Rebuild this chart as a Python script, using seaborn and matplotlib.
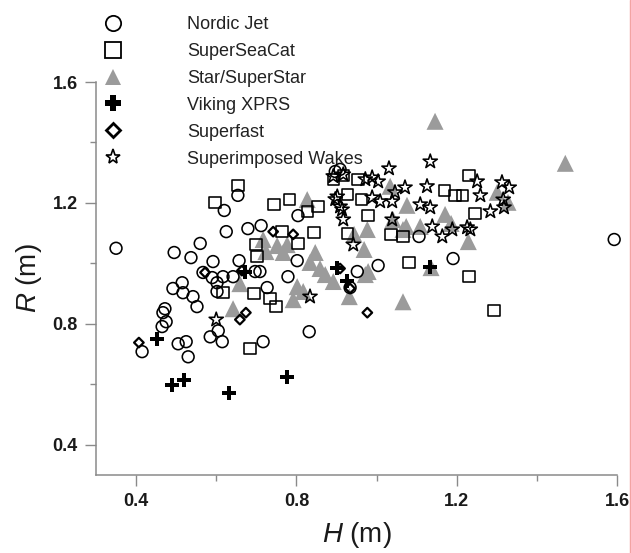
import numpy as np
import pandas as pd
import seaborn as sns
import matplotlib
matplotlib.use("Agg")
import matplotlib.pyplot as plt
from matplotlib.lines import Line2D

# Wave height H (m) and run-up R (m) per vessel
nordic_H = [0.35, 0.495, 0.537, 0.56, 0.592, 0.625, 0.62, 0.654, 0.679, 0.712,
            0.657, 0.697, 0.709, 0.727, 0.804, 0.802, 0.779, 0.832, 0.717, 0.605,
            0.585, 0.505, 0.525, 0.53, 0.415, 0.467, 0.475, 0.465, 0.492, 0.515,
            0.517, 0.542, 0.552, 0.567, 0.59, 0.602, 0.602, 0.617, 0.642, 0.897,
            0.952, 0.615, 0.472, 0.934, 1.004, 1.106, 1.191, 1.593, 0.909]
nordic_R = [1.05, 1.036, 1.019, 1.066, 1.006, 1.105, 1.175, 1.225, 1.115, 1.125,
            1.009, 0.973, 0.973, 0.92, 1.158, 1.009, 0.956, 0.774, 0.741, 0.777,
            0.757, 0.734, 0.741, 0.691, 0.708, 0.837, 0.807, 0.791, 0.917, 0.936,
            0.903, 0.89, 0.857, 0.97, 0.953, 0.936, 0.907, 0.956, 0.956, 1.304,
            0.973, 0.741, 0.85, 0.92, 0.993, 1.089, 1.016, 1.079, 1.311]

seacat_H = [0.654, 0.597, 0.744, 0.782, 0.854, 0.827, 0.764, 0.844, 0.699, 0.804,
            0.702, 0.617, 0.694, 0.734, 0.749, 0.684, 0.892, 0.954, 0.927, 0.962,
            0.927, 1.231, 1.169, 1.196, 1.214, 0.979, 1.246, 1.036, 1.066, 1.081,
            1.231, 1.293, 0.917]
seacat_R = [1.258, 1.202, 1.195, 1.211, 1.188, 1.172, 1.105, 1.102, 1.062, 1.066,
            1.023, 0.903, 0.9, 0.883, 0.857, 0.718, 1.278, 1.278, 1.228, 1.211,
            1.099, 1.291, 1.241, 1.225, 1.225, 1.158, 1.165, 1.095, 1.089, 1.003,
            0.956, 0.844, 1.291]

star_H = [0.827, 0.717, 0.752, 0.777, 0.724, 0.767, 0.847, 0.834, 0.859, 0.872,
          0.892, 0.659, 0.802, 0.792, 0.817, 0.932, 0.642, 0.944, 0.969, 0.979,
          1.034, 1.076, 0.977, 1.074, 1.109, 1.171, 1.186, 1.229, 1.136, 1.066,
          1.041, 1.146, 1.471, 1.301, 1.328, 0.972, 1.066]
star_R = [1.211, 1.079, 1.059, 1.062, 1.039, 1.036, 1.036, 1.003, 0.983, 0.963,
          0.94, 0.933, 0.923, 0.88, 0.907, 0.89, 0.85, 1.096, 1.046, 0.973,
          1.255, 1.192, 1.112, 1.122, 1.122, 1.162, 1.132, 1.072, 0.986, 0.873,
          1.145, 1.47, 1.331, 1.235, 1.202, 0.963, 1.112]

viking_H = [0.49, 0.52, 0.632, 0.777, 0.452, 0.672, 0.902, 0.927, 1.134]
viking_R = [0.598, 0.615, 0.572, 0.625, 0.751, 0.97, 0.986, 0.943, 0.989]

fast_H = [0.407, 0.572, 0.742, 0.792, 0.659, 0.674, 0.977, 0.664, 0.909, 0.934]
fast_R = [0.738, 0.97, 1.105, 1.096, 0.814, 0.837, 0.837, 0.976, 0.983, 0.917]

wake_H = [0.6, 0.834, 0.942, 0.902, 0.909, 0.917, 0.892, 0.917, 0.897, 0.914,
          1.134, 1.031, 0.989, 1.004, 0.972, 1.071, 1.126, 0.989, 1.009, 1.039,
          1.046, 1.109, 1.134, 1.039, 1.139, 1.164, 1.189, 1.226, 1.251, 1.259,
          1.313, 1.331, 1.316, 1.318, 1.284, 1.234]
wake_R = [0.814, 0.89, 1.062, 1.221, 1.188, 1.145, 1.288, 1.294, 1.212, 1.178,
          1.337, 1.314, 1.284, 1.271, 1.278, 1.251, 1.255, 1.218, 1.205, 1.205,
          1.235, 1.195, 1.185, 1.145, 1.122, 1.089, 1.112, 1.119, 1.271, 1.225,
          1.268, 1.251, 1.211, 1.185, 1.172, 1.112]

labels = ["Nordic Jet", "SuperSeaCat", "Star/SuperStar", "Viking XPRS",
          "Superfast", "Superimposed Wakes"]

sns.set_theme(style="white")
plt.rcParams["font.family"] = ["Liberation Sans", "DejaVu Sans"]
plt.rcParams["mathtext.fontset"] = "custom"
plt.rcParams["mathtext.it"] = "Liberation Sans:italic"
plt.rcParams["mathtext.rm"] = "Liberation Sans"

fig = plt.figure(figsize=(6.31, 5.53), dpi=100)
ax = fig.add_axes([96 / 631, 78 / 553, 521 / 631, 393 / 553])

GRAY = "#9b9b9b"
series = [
    # (H, R, marker kwargs), drawn in this order
    (star_H, star_R, dict(marker="^", s=150, color=GRAY, edgecolor="none", linewidth=0)),
    (nordic_H, nordic_R, dict(marker="o", s=72, facecolor="none", edgecolor="black", linewidth=1.15)),
    (seacat_H, seacat_R, dict(marker="s", s=66, facecolor="none", edgecolor="black", linewidth=1.15)),
    (viking_H, viking_R, dict(marker="P", s=88, color="black", edgecolor="black", linewidth=0)),
    (fast_H, fast_R, dict(marker="D", s=24, facecolor="none", edgecolor="black", linewidth=1.6)),
    (wake_H, wake_R, dict(marker="*", s=115, facecolor="none", edgecolor="black", linewidth=1.15)),
]
for h, r, kw in series:
    sns.scatterplot(x=h, y=r, ax=ax, legend=False, clip_on=False, **kw)

ax.set_xlim(0.3, 1.6)
ax.set_ylim(0.3, 1.6)
ax.set_xticks([0.4, 0.8, 1.2, 1.6])
ax.set_yticks([0.4, 0.8, 1.2, 1.6])
ax.set_xticks([0.6, 1.0, 1.4], minor=True)
ax.set_yticks([0.6, 1.0, 1.4], minor=True)
ax.set_xticklabels(["0.4", "0.8", "1.2", "1.6"])
ax.set_yticklabels(["0.4", "0.8", "1.2", "1.6"])

for side in ["top", "right"]:
    ax.spines[side].set_visible(False)
for side in ["left", "bottom"]:
    ax.spines[side].set_color("#8a8a8a")
    ax.spines[side].set_linewidth(1.1)

ax.tick_params(which="major", direction="out", length=8, width=1.0, color="#8a8a8a",
               labelsize=13, pad=5, bottom=True, left=True)
ax.tick_params(which="minor", direction="out", length=4, width=1.0, color="#8a8a8a",
               bottom=True, left=True)
for t in ax.get_xticklabels() + ax.get_yticklabels():
    t.set_fontweight("bold")
    t.set_color("#1a1a1a")

ax.set_xlabel("$\\mathit{H}$ (m)", fontsize=20, color="#1a1a1a", labelpad=7)
ax.set_ylabel("$\\mathit{R}$ (m)", fontsize=20, color="#1a1a1a", labelpad=6)

handles = [
    Line2D([], [], linestyle="none", marker="o", markersize=11, markerfacecolor="none",
           markeredgecolor="black", markeredgewidth=1.3),
    Line2D([], [], linestyle="none", marker="s", markersize=11, markerfacecolor="none",
           markeredgecolor="black", markeredgewidth=1.3),
    Line2D([], [], linestyle="none", marker="^", markersize=12, color=GRAY,
           markeredgewidth=0),
    Line2D([], [], linestyle="none", marker="P", markersize=12, color="black",
           markeredgewidth=0),
    Line2D([], [], linestyle="none", marker="D", markersize=7, markerfacecolor="none",
           markeredgecolor="black", markeredgewidth=2.0),
    Line2D([], [], linestyle="none", marker="*", markersize=11, markerfacecolor="none",
           markeredgecolor="black", markeredgewidth=1.2),
]
leg = ax.legend(handles, labels, loc="upper left",
                bbox_to_anchor=(95 / 631, 1 - 16 / 553), bbox_transform=fig.transFigure,
                frameon=False, fontsize=13, handlelength=2.0, handletextpad=3.1,
                labelspacing=0.55, borderpad=0, borderaxespad=0)
for txt in leg.get_texts():
    txt.set_color("#222222")

# thin edge line at the right border
fig.add_artist(Line2D([629.5 / 631, 629.5 / 631], [0, 1], transform=fig.transFigure,
                      color="#f3a3a3", linewidth=1.0))

fig.savefig("out.png", dpi=100)
